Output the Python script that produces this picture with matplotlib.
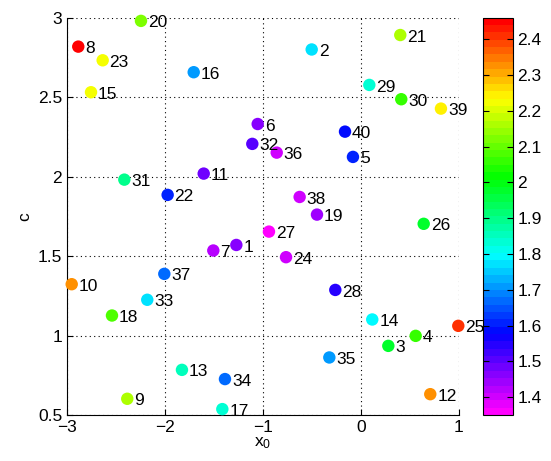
import numpy as np
import matplotlib
matplotlib.use("Agg")
import matplotlib.pyplot as plt
from matplotlib.colors import ListedColormap, hsv_to_rgb

plt.rcParams['font.family'] = ['Liberation Sans', 'DejaVu Sans']
plt.rcParams['mathtext.fontset'] = 'custom'
plt.rcParams['mathtext.rm'] = 'Liberation Sans'
plt.rcParams['mathtext.it'] = 'Liberation Sans'

# point id, x0, c and the colour value for each run
ids = list(range(1, 41))
x0 = [-1.272, -0.503, 0.279, 0.558, -0.082, -1.054, -1.507, -2.885, -2.385, -2.952,
      -1.605, 0.707, -1.827, 0.115, -2.755, -1.707, -1.415, -2.541, -0.449, -2.245,
      0.401, -1.973, -2.636, -0.765, 0.993, 0.640, -0.939, -0.262, 0.085, 0.411,
      -2.415, -1.109, -2.181, -1.388, -0.323, -0.860, -2.007, -0.626, 0.816, -0.163]
c = [1.570, 2.800, 0.935, 0.998, 2.124, 2.331, 1.535, 2.818, 0.602, 1.323,
     2.019, 0.631, 0.784, 1.101, 2.531, 2.657, 0.537, 1.126, 1.761, 2.980,
     2.891, 1.885, 2.732, 1.493, 1.061, 1.703, 1.654, 1.287, 2.577, 2.487,
     1.981, 2.206, 1.225, 0.726, 0.862, 2.151, 1.388, 1.872, 2.428, 2.283]
val = [1.46, 1.78, 1.98, 2.06, 1.60, 1.46, 1.43, 2.46, 2.16, 2.33,
       1.49, 2.33, 1.85, 1.79, 2.22, 1.71, 1.84, 2.09, 1.44, 2.13,
       2.17, 1.61, 2.22, 1.41, 2.40, 1.98, 1.35, 1.55, 1.84, 2.05,
       1.90, 1.50, 1.78, 1.66, 1.71, 1.40, 1.66, 1.41, 2.24, 1.59]

# banded hue map running from magenta (low) to red (high)
nband = 54
hues = np.linspace(5.0 / 6.0, 0.0, nband)
cmap = ListedColormap(hsv_to_rgb(np.column_stack([hues, np.ones(nband), np.ones(nband)])))

fs = 12.5
fig = plt.figure(figsize=(5.51, 4.61), dpi=100)
ax = fig.add_axes([0.1216, 0.0998, 0.7114, 0.8618])
cax = fig.add_axes([0.876, 0.0998, 0.0544, 0.8618])

sc = ax.scatter(x0, c, c=val, cmap=cmap, vmin=min(val), vmax=max(val),
                s=80, edgecolors='none', zorder=3, clip_on=False)
for i, xx, yy in zip(ids, x0, c):
    ax.annotate(str(i), xy=(xx, yy), xytext=(5, -1.5), textcoords='offset points',
                va='center', ha='left', fontsize=fs, zorder=4, annotation_clip=False)

ax.set_xlim(-3, 1)
ax.set_ylim(0.5, 3)
ax.set_xticks([-3, -2, -1, 0, 1])
ax.set_yticks([0.5, 1, 1.5, 2, 2.5, 3])
ax.set_xticklabels(['\u22123', '\u22122', '\u22121', '0', '1'])
ax.set_yticklabels(['0.5', '1', '1.5', '2', '2.5', '3'])
ax.grid(True, linestyle=(0, (1, 3)), color='black', linewidth=0.8)
ax.spines['top'].set_visible(False)
ax.spines['right'].set_visible(False)
ax.tick_params(direction='in', length=4, labelsize=fs)
ax.set_xlabel('x$_0$', fontsize=fs, labelpad=0)
ax.set_ylabel('c', fontsize=fs, labelpad=4)

cb = fig.colorbar(sc, cax=cax)
cb.set_ticks(np.round(np.arange(1.4, 2.45, 0.1), 1))
cb.set_ticklabels(['1.4', '1.5', '1.6', '1.7', '1.8', '1.9', '2', '2.1', '2.2', '2.3', '2.4'])
cax.tick_params(direction='in', length=4, labelsize=fs, left=True, right=True)
cb.outline.set_linewidth(0.8)

fig.savefig("out.png", dpi=100)
